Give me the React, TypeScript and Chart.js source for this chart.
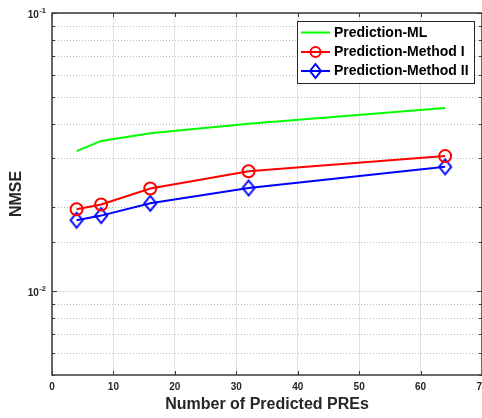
import React, { useEffect, useRef } from 'react';
import { Chart, registerables } from 'chart.js';

Chart.register(...registerables);

const xValues = [4, 8, 16, 32, 64];
const mlValues = [0.0319, 0.0347, 0.0370, 0.0400, 0.0456];
const method1Values = [0.0197, 0.0205, 0.0234, 0.0270, 0.0306];
const method2Values = [0.0180, 0.0187, 0.0207, 0.0235, 0.0280];
const seriesLabels = ['Prediction-ML', 'Prediction-Method I', 'Prediction-Method II'];
const seriesColors = ['#00ff00', '#ff0000', '#0000ff'];
const xMin = 0;
const xMax = 70;
const xStep = 10;
const yMin = 0.005;
const yMax = 0.1;
const yTickBase = '10';
const yTickExponents: Record<string, string> = { '-1': '-1', '-2': '-2' };
const xTitle = 'Number of Predicted PREs';
const yTitle = 'NMSE';

const FONT = '"Liberation Sans", Arial, Helvetica, sans-serif';
const AXIS_COLOR = '#3a3a3a';
const TEXT_COLOR = '#262626';

function isPow10(v: number) {
  const l = Math.log10(v);
  return Math.abs(l - Math.round(l)) < 1e-6;
}

function makeDiamond(color: string, w: number, h: number) {
  const c = document.createElement('canvas');
  c.width = w + 4;
  c.height = h + 4;
  const g = c.getContext('2d')!;
  g.strokeStyle = color;
  g.lineWidth = 2;
  g.lineJoin = 'miter';
  const cx = c.width / 2;
  const cy = c.height / 2;
  g.beginPath();
  g.moveTo(cx, cy - h / 2);
  g.lineTo(cx + w / 2, cy);
  g.lineTo(cx, cy + h / 2);
  g.lineTo(cx - w / 2, cy);
  g.closePath();
  g.stroke();
  return c;
}

const matlabPlugin = {
  id: 'matlabAxes',
  beforeDatasetsDraw(chart: any) {
    const { ctx, chartArea: a, scales } = chart;
    const y = scales.y;
    ctx.save();
    ctx.beginPath();
    ctx.rect(a.left, a.top, a.right - a.left, a.bottom - a.top);
    ctx.clip();
    y.ticks.forEach((t: any) => {
      const p = Math.round(y.getPixelForValue(t.value)) + 0.5;
      const major = isPow10(t.value);
      ctx.beginPath();
      ctx.setLineDash(major ? [] : [1, 2]);
      ctx.strokeStyle = major ? '#e0e0e0' : '#bdbdbd';
      ctx.lineWidth = 1;
      ctx.moveTo(a.left, p);
      ctx.lineTo(a.right, p);
      ctx.stroke();
    });
    ctx.restore();
  },
  afterDatasetsDraw(chart: any) {
    const { ctx, chartArea: a, scales } = chart;
    const x = scales.x;
    const y = scales.y;
    ctx.save();
    ctx.setLineDash([]);
    ctx.strokeStyle = AXIS_COLOR;
    ctx.lineWidth = 1;
    x.ticks.forEach((t: any) => {
      const p = Math.round(x.getPixelForValue(t.value)) + 0.5;
      ctx.beginPath();
      ctx.moveTo(p, a.bottom);
      ctx.lineTo(p, a.bottom - 4);
      ctx.moveTo(p, a.top);
      ctx.lineTo(p, a.top + 4);
      ctx.stroke();
    });
    y.ticks.forEach((t: any) => {
      const p = Math.round(y.getPixelForValue(t.value)) + 0.5;
      const len = isPow10(t.value) ? 5 : 3;
      ctx.beginPath();
      ctx.moveTo(a.left, p);
      ctx.lineTo(a.left + len, p);
      ctx.moveTo(a.right, p);
      ctx.lineTo(a.right - len, p);
      ctx.stroke();
    });
    ctx.lineWidth = 1.5;
    ctx.strokeStyle = AXIS_COLOR;
    ctx.strokeRect(a.left, a.top, a.right - a.left, a.bottom - a.top);

    ctx.fillStyle = TEXT_COLOR;
    ctx.textBaseline = 'middle';
    y.ticks.forEach((t: any) => {
      if (!isPow10(t.value)) return;
      const e = String(Math.round(Math.log10(t.value)));
      const sup = yTickExponents[e];
      if (!sup) return;
      const p = y.getPixelForValue(t.value);
      ctx.font = `bold 7.5px ${FONT}`;
      const supW = ctx.measureText(sup).width;
      const right = a.left - 6;
      ctx.textAlign = 'right';
      ctx.fillText(sup, right, p - 2);
      ctx.font = `bold 10px ${FONT}`;
      ctx.fillText(yTickBase, right - supW - 0.5, p + 2);
    });
    ctx.restore();
  },
  afterDraw(chart: any) {
    const { ctx } = chart;
    const bx = 297;
    const by = 21;
    const bw = 177;
    const bh = 62;
    ctx.save();
    ctx.fillStyle = '#ffffff';
    ctx.fillRect(bx, by, bw, bh);
    ctx.strokeStyle = '#262626';
    ctx.lineWidth = 1;
    ctx.strokeRect(bx + 0.5, by + 0.5, bw, bh);
    const rowsY = [32.5, 52, 71];
    seriesLabels.forEach((label, i) => {
      const ly = rowsY[i];
      ctx.strokeStyle = seriesColors[i];
      ctx.lineWidth = 2;
      ctx.beginPath();
      ctx.moveTo(301, ly);
      ctx.lineTo(330, ly);
      ctx.stroke();
      const mx = 315.5;
      if (i === 1) {
        ctx.beginPath();
        ctx.arc(mx, ly, 5, 0, Math.PI * 2);
        ctx.stroke();
      } else if (i === 2) {
        ctx.beginPath();
        ctx.moveTo(mx, ly - 7);
        ctx.lineTo(mx + 5.5, ly);
        ctx.lineTo(mx, ly + 7);
        ctx.lineTo(mx - 5.5, ly);
        ctx.closePath();
        ctx.stroke();
      }
      ctx.fillStyle = '#000000';
      ctx.font = `bold 14px ${FONT}`;
      ctx.textBaseline = 'middle';
      ctx.textAlign = 'left';
      ctx.fillText(label, 334, ly + 0.5);
    });
    ctx.restore();
  },
};

export default function App() {
  const ref = useRef<HTMLCanvasElement | null>(null);
  useEffect(() => {
    if (!ref.current) return;
    const diamond = makeDiamond(seriesColors[2], 12, 15);
    const chart = new Chart(ref.current, {
      type: 'line',
      data: {
        datasets: [
          {
            label: seriesLabels[0],
            data: xValues.map((x, i) => ({ x, y: mlValues[i] })),
            borderColor: seriesColors[0],
            backgroundColor: seriesColors[0],
            borderWidth: 2,
            pointRadius: 0,
            fill: false,
          },
          {
            label: seriesLabels[1],
            data: xValues.map((x, i) => ({ x, y: method1Values[i] })),
            borderColor: seriesColors[1],
            backgroundColor: 'rgba(0,0,0,0)',
            borderWidth: 2,
            pointRadius: 6,
            pointBorderWidth: 2,
            pointStyle: 'circle',
            fill: false,
          },
          {
            label: seriesLabels[2],
            data: xValues.map((x, i) => ({ x, y: method2Values[i] })),
            borderColor: seriesColors[2],
            backgroundColor: 'rgba(0,0,0,0)',
            borderWidth: 2,
            pointRadius: 7,
            pointStyle: diamond as any,
            fill: false,
          },
        ],
      },
      options: {
        animation: false,
        responsive: false,
        events: [],
        layout: { padding: { left: 0, top: 13, right: 14, bottom: 0 } },
        plugins: {
          legend: { display: false },
          tooltip: { enabled: false },
        },
        scales: {
          x: {
            type: 'linear',
            min: xMin,
            max: xMax,
            ticks: {
              stepSize: xStep,
              padding: 6,
              color: TEXT_COLOR,
              font: { family: FONT, size: 10, weight: 'bold' },
              maxRotation: 0,
            },
            grid: { color: '#e0e0e0', drawTicks: false, lineWidth: 1 },
            border: { display: false },
            title: {
              display: true,
              text: xTitle,
              color: TEXT_COLOR,
              font: { family: FONT, size: 16, weight: 'bold' },
              padding: { top: 0, bottom: 3.5 },
            },
            afterFit: (s: any) => {
              s.height = 43;
            },
          },
          y: {
            type: 'logarithmic',
            min: yMin,
            max: yMax,
            ticks: {
              autoSkip: false,
              padding: 6,
              color: TEXT_COLOR,
              font: { family: FONT, size: 10, weight: 'bold' },
              callback: () => '',
            },
            grid: { display: false, drawTicks: false },
            border: { display: false },
            title: {
              display: true,
              text: yTitle,
              color: TEXT_COLOR,
              font: { family: FONT, size: 16, weight: 'bold' },
              padding: { top: 7, bottom: 0 },
            },
            afterFit: (s: any) => {
              s.width = 52;
            },
          },
        },
      },
      plugins: [matlabPlugin],
    });
    return () => chart.destroy();
  }, []);
  return (
    <div style={{ position: 'fixed', left: 0, top: 0, width: 496, height: 418, background: '#fff' }}>
      <canvas ref={ref} width={496} height={418} />
    </div>
  );
}
